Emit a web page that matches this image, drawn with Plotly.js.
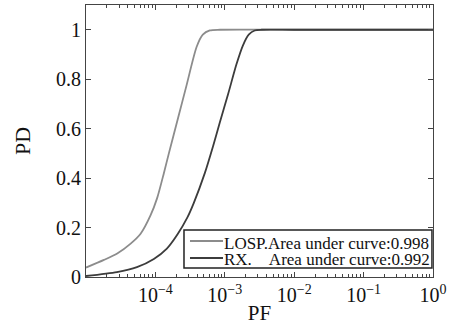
<!DOCTYPE html>
<html><head><meta charset="utf-8">
<script src="https://cdn.plot.ly/plotly-3.0.1.min.js"></script>
<style>html,body{margin:0;padding:0;background:#fff}#chart{width:453px;height:329px}</style>
</head><body><div id="chart"></div>
<script>
const losp_pf = [1e-5, 1.815e-5, 2.82e-5, 4.40e-5, 6.12e-5, 8.53e-5, 1.062e-4, 1.324e-4, 1.563e-4, 2.13e-4, 2.81e-4, 3.92e-4, 4.82e-4, 6.08e-4, 8.5e-4, 1e-2, 1];
const losp_pd = [0.038, 0.069, 0.095, 0.135, 0.175, 0.25, 0.32, 0.42, 0.50, 0.645, 0.775, 0.93, 0.98, 0.997, 1.0, 1.0, 1.0];
const rx_pf = [1e-5, 2.79e-5, 5.42e-5, 9.5e-5, 1.462e-4, 2.075e-4, 2.88e-4, 3.58e-4, 5.15e-4, 6.79e-4, 8.47e-4, 1.117e-3, 1.472e-3, 1.815e-3, 2.21e-3, 2.70e-3, 3.40e-3, 1e-2, 1];
const rx_pd = [0.004, 0.02, 0.04, 0.073, 0.115, 0.172, 0.24, 0.30, 0.42, 0.53, 0.625, 0.74, 0.86, 0.935, 0.98, 0.997, 1.0, 1.0, 1.0];
const xTickVals = [1e-4, 1e-3, 1e-2, 1e-1, 1];
const xTickText = ['10<sup>−4</sup>', '10<sup>−3</sup>', '10<sup>−2</sup>', '10<sup>−1</sup>', '10<sup>0</sup>'];
const xMinorVals = [2e-5,3e-5,4e-5,5e-5,6e-5,7e-5,8e-5,9e-5, 2e-4,3e-4,4e-4,5e-4,6e-4,7e-4,8e-4,9e-4,
                    2e-3,3e-3,4e-3,5e-3,6e-3,7e-3,8e-3,9e-3, 2e-2,3e-2,4e-2,5e-2,6e-2,7e-2,8e-2,9e-2,
                    0.2,0.3,0.4,0.5,0.6,0.7,0.8,0.9];
const yTickVals = [0, 0.2, 0.4, 0.6, 0.8, 1];
const yTickText = ['0', '0.2', '0.4', '0.6', '0.8', '1'];
const names = ['LOSP.Area under curve:0.998', 'RX.\u00a0\u00a0\u00a0\u00a0Area under curve:0.992'];
const colors = ['#8c8c8c', '#3c3c3c'];

const font = 'Liberation Serif, Times New Roman, serif';
const traces = [
  {x: losp_pf, y: losp_pd, name: names[0], mode: 'lines', line: {color: colors[0], width: 1.8, shape: 'spline', smoothing: 0.7}},
  {x: rx_pf, y: rx_pd, name: names[1], mode: 'lines', line: {color: colors[1], width: 1.8, shape: 'spline', smoothing: 0.7}},
  {x: [1e-5, 1], y: [0, 0], xaxis: 'x2', mode: 'lines', line: {width: 0}, showlegend: false, hoverinfo: 'skip'}
];
const axisCommon = {ticks: 'inside', tickcolor: '#444', showline: true, linecolor: '#444', linewidth: 1, mirror: 'ticks',
                    showgrid: false, zeroline: false};
// hand-drawn MATLAB-style legend box
const legRowY = [0.1324, 0.0699];
const legTextY = [0.1250, 0.0660];
const shapes = [
  {type: 'rect', xref: 'paper', yref: 'paper', x0: 0.2824, x1: 0.997, y0: 0.0331, y1: 0.1728,
   line: {color: '#222', width: 1.5}, fillcolor: '#fff', layer: 'above'}
];
const annotations = [];
names.forEach((n, i) => {
  shapes.push({type: 'line', xref: 'paper', yref: 'paper', x0: 0.2997, x1: 0.3948, y0: legRowY[i], y1: legRowY[i],
               line: {color: colors[i], width: 1.8}, layer: 'above'});
  annotations.push({xref: 'paper', yref: 'paper', x: 0.3920, y: legTextY[i], xanchor: 'left', yanchor: 'middle',
                    text: n, showarrow: false, font: {family: font, size: 17, color: '#111'}});
});
const layout = {
  width: 453, height: 329,
  margin: {l: 86, r: 20, t: 5, b: 52},
  paper_bgcolor: '#fff', plot_bgcolor: '#fff',
  font: {family: font, color: '#111', size: 20},
  showlegend: false,
  shapes: shapes, annotations: annotations,
  xaxis: Object.assign({}, axisCommon, {type: 'log', range: [-5, 0], tickmode: 'array', tickvals: xTickVals, ticktext: xTickText,
          ticklen: 5, tickfont: {family: font, size: 20},
          title: {text: 'PF', font: {family: font, size: 21}, standoff: 0}}),
  xaxis2: Object.assign({}, axisCommon, {type: 'log', range: [-5, 0], overlaying: 'x', tickmode: 'array', tickvals: xMinorVals,
          ticklen: 3, showticklabels: false, anchor: 'y'}),
  yaxis: Object.assign({}, axisCommon, {range: [0, 1.1], tickmode: 'array', tickvals: yTickVals, ticktext: yTickText,
          ticklen: 5, tickfont: {family: font, size: 20},
          title: {text: 'PD', font: {family: font, size: 22}, standoff: 19}})
};
Plotly.newPlot('chart', traces, layout, {displayModeBar: false, staticPlot: true});
</script></body></html>
